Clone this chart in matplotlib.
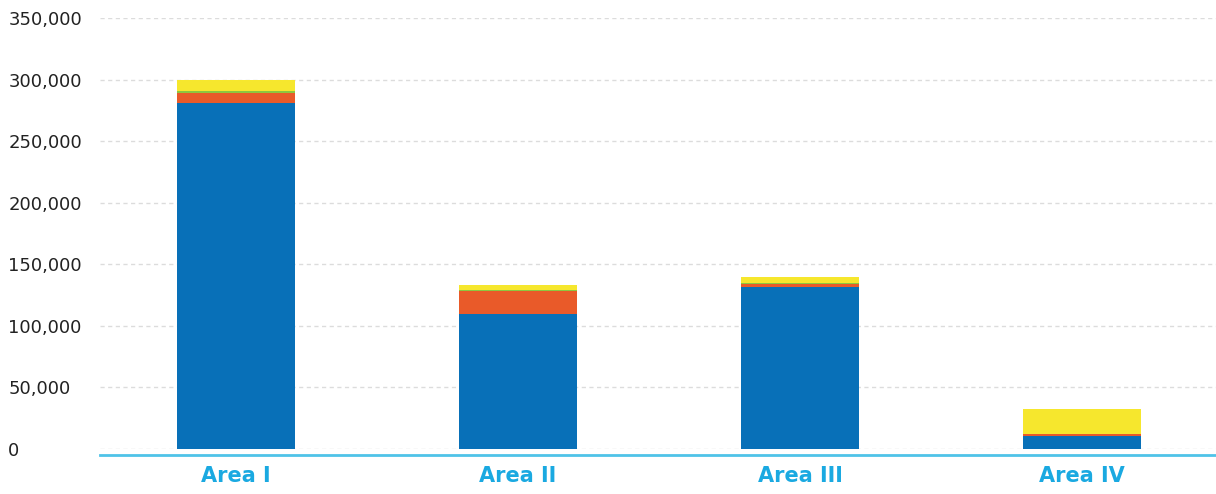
import matplotlib
matplotlib.use('Agg')
import matplotlib.pyplot as plt
import numpy as np
from matplotlib.ticker import FuncFormatter

# values
areas = ['Area I', 'Area II', 'Area III', 'Area IV']
blue_vals   = [281000, 110000, 131500, 10500]
orange_vals = [8100, 18400, 2400, 1600]
green_vals  = [1600, 800, 1100, 0]
yellow_vals = [8900, 4100, 4600, 20300]

series = [blue_vals, orange_vals, green_vals, yellow_vals]
colors = ['#0870b8', '#e95a29', '#8dc63f', '#f6e72d']

fig = plt.figure(figsize=(12.16, 4.94), dpi=100)
ax = fig.add_axes([100/1216, 1 - 449/494, 1116/1216, (449-18)/494])

x = np.arange(len(areas))
bottom = np.zeros(len(areas))
for vals, col in zip(series, colors):
    ax.bar(x, vals, width=0.42, bottom=bottom, color=col, zorder=3)
    bottom = bottom + np.array(vals)

ax.set_xlim(-0.482, 3.475)
ax.set_ylim(0, 350000)
ax.set_yticks(np.arange(0, 350001, 50000))
ax.yaxis.set_major_formatter(FuncFormatter(lambda v, p: '{:,.0f}'.format(v)))
ax.grid(axis='y', color='#dcdcdc', linestyle=(0, (3, 2.5)), linewidth=1, zorder=0)

for s in ['top', 'right', 'left']:
    ax.spines[s].set_visible(False)
ax.spines['bottom'].set_position(('outward', 4.5))
ax.spines['bottom'].set_color('#4fc3e8')
ax.spines['bottom'].set_linewidth(2)

ax.set_xticks(x)
ax.set_xticklabels(areas, fontsize=15, fontweight='bold', color='#1aa9e1')
ax.tick_params(axis='x', length=0, pad=7.5)
ax.tick_params(axis='y', length=0, pad=66, labelsize=13, labelcolor='#222222')
for lab in ax.get_yticklabels():
    lab.set_horizontalalignment('left')

fig.savefig('out.png', dpi=100)
